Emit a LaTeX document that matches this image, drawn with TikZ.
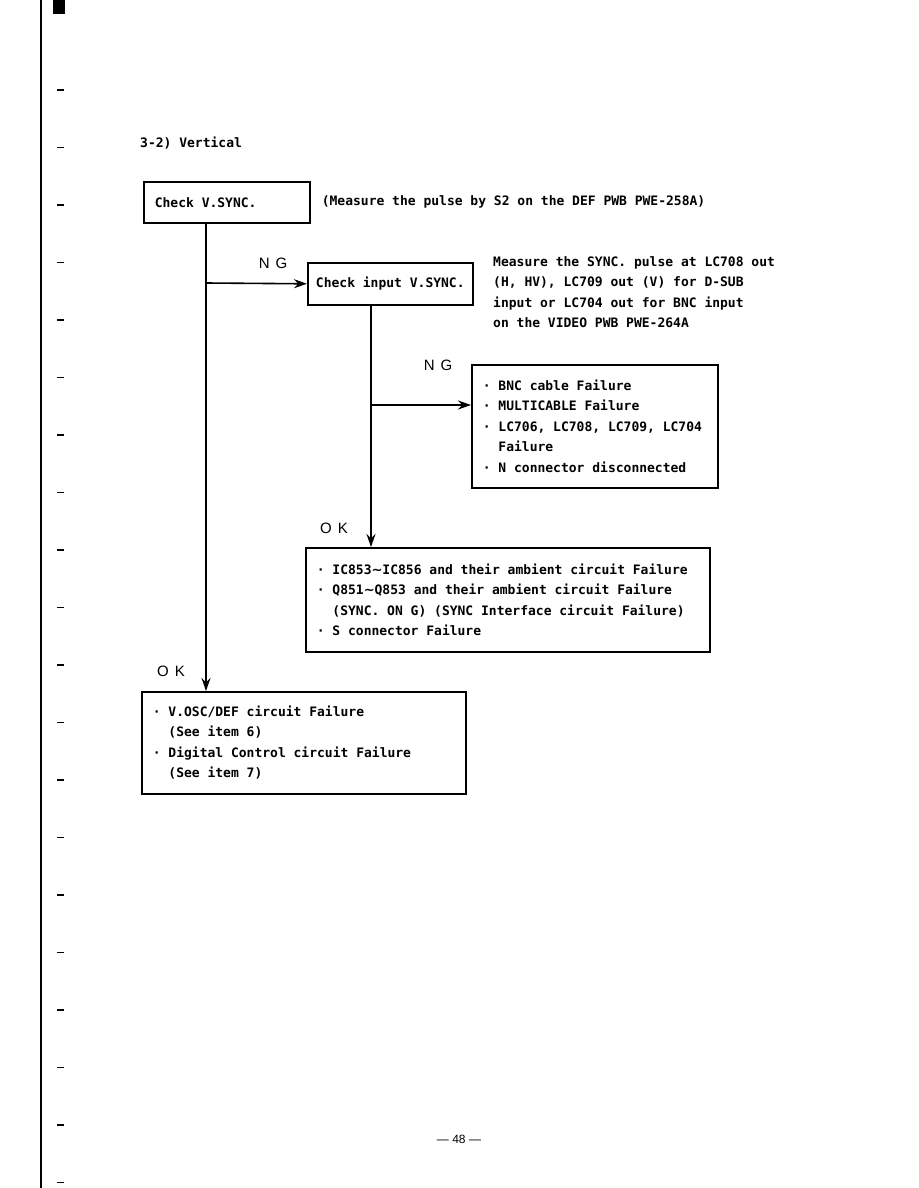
\documentclass[tikz,border=0pt]{standalone}
\usepackage{fontspec}
\setmainfont{DejaVu Sans Mono}[WordSpace={1,0,0}]
\newfontfamily\labelfont{Liberation Sans}
\newfontfamily\symfont{DejaVu Sans}
\usetikzlibrary{arrows.meta,positioning}

\tikzset{
  fbox/.style={draw,line width=1.6pt,anchor=north west,inner xsep=11pt,inner ysep=0pt,align=left,
    execute at begin node={\spaceskip=0pt\xspaceskip=0pt}},
  flowarrow/.style={line width=1.6pt,-{Stealth[length=13pt,width=9pt]}},
  branch/.style={font=\labelfont\fontsize{15}{15}\selectfont\addfontfeature{LetterSpace=40}},
  note/.style={inner sep=0pt,align=left}
}
\newcommand{\wave}{{\symfont\bfseries ∼}}

\begin{document}
\begin{tikzpicture}[x=1pt,y=-1pt,font=\fontsize{13}{20.5}\selectfont\bfseries]
\useasboundingbox (0,0) rectangle (918,1188);
% scan margin
\draw[line width=2.5pt] (41,0) -- (41,1188);
\fill (53,0) rectangle (65,14);
\foreach \y in {90,147.5,...,1185}
  \draw[line width=1.2pt] (57,\y) -- (64,\y);

\node[note,anchor=west] (title) at (140,143) {3-2) Vertical};

% boxes
\node[fbox,minimum width=166pt,minimum height=41pt,text width=144pt] (vsync) at (143,181) {Check V.SYNC.};
\node[note,anchor=west,right=11pt of vsync] (vnote) {(Measure the pulse by S2 on the DEF PWB PWE-258A)};
\node[fbox,minimum width=165pt,minimum height=42pt,inner xsep=0pt,align=center] (input) at (307,262) {Check input V.SYNC.};
\node[note,anchor=north west] (inote) at (493,256) {Measure the SYNC. pulse at LC708 out\\(H, HV), LC709 out (V) for D-SUB\\input or LC704 out for BNC input\\on the VIDEO PWB PWE-264A};
\node[fbox,minimum width=246pt,minimum height=123pt,text width=224pt] (cable) at (471,364)
  {· BNC cable Failure\\· MULTICABLE Failure\\· LC706, LC708, LC709, LC704\\\phantom{· }Failure\\· N connector disconnected};
\node[fbox,minimum width=404pt,minimum height=104pt,text width=382pt] (ambient) at (305,547)
  {· IC853\wave IC856 and their ambient circuit Failure\\· Q851\wave Q853 and their ambient circuit Failure\\\phantom{· }(SYNC. ON G) (SYNC Interface circuit Failure)\\· S connector Failure};
\node[fbox,minimum width=324pt,minimum height=102pt,text width=302pt] (vosc) at (141,691)
  {· V.OSC/DEF circuit Failure\\\phantom{· }(See item 6)\\· Digital Control circuit Failure\\\phantom{· }(See item 7)};

% branch labels
\node[branch] (ng1) at (273,263) {NG};
\node[branch] (ng2) at (438,365) {NG};
\node[branch] (ok1) at (334,528) {OK};
\node[branch] (ok2) at (171,671) {OK};

% connectors
\coordinate (j1) at (206,283);
\coordinate (j2) at (371,405);
\draw[flowarrow] (vsync.south -| j1) -- (vosc.north -| j1);
\draw[flowarrow] (j1) -- (input.west);
\draw[flowarrow] (input.south -| j2) -- (ambient.north -| j2);
\draw[flowarrow] (j2) -- (j2 -| cable.west);

\node[font=\labelfont\fontsize{12}{12}\selectfont] (page) at (459,1139) {— 48 —};
\end{tikzpicture}
\end{document}
